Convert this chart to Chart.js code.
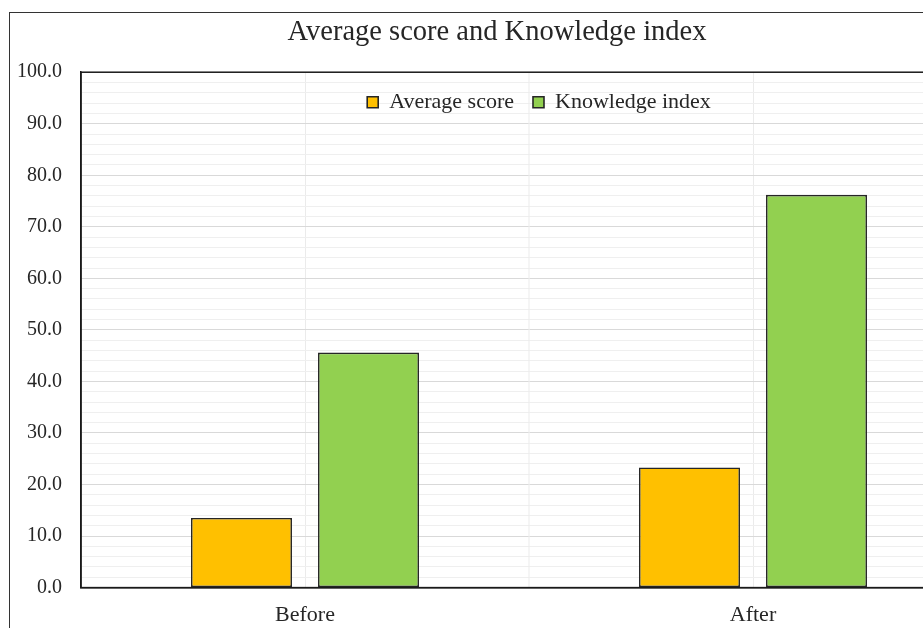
<!DOCTYPE html>
<html>
<head>
<meta charset="utf-8">
<script src="https://cdn.jsdelivr.net/npm/chart.js@4"></script>
<style>
  html, body { margin:0; padding:0; background:#fff; overflow:hidden; }
  #frame { position:absolute; left:9px; top:12px; width:990px; height:660px; border:1px solid #333; box-sizing:border-box; }
  #wrap  { position:absolute; left:0; top:0; width:980px; height:640px; }
</style>
</head>
<body>
<div id="frame"><div id="wrap"><canvas id="chart" width="980" height="640"></canvas></div></div>
<script>
/* ---- data ---- */
const categories     = ['Before', 'After'];
const averageScore   = [13.5, 23.3];
const knowledgeIndex = [45.6, 76.2];
const seriesNames    = ['Average score', 'Knowledge index'];

const SERIF = '"Liberation Serif", "Times New Roman", serif';
const INK   = '#262626';

// plot frame + gridline between the two categories; legend moved inside the plot
const framePlugin = {
  id: 'frame',
  afterLayout(chart) {
    const L = chart.legend;
    L.top = chart.chartArea.top;
    L.height = 60;
    L.bottom = L.top + L.height;
    L.left += 10;
    L.right += 10;
  },
  beforeDatasetsDraw(chart) {
    const { ctx, chartArea:a, scales:{ x } } = chart;
    ctx.save();
    ctx.strokeStyle = '#ebebeb';
    ctx.lineWidth = 1;
    ctx.beginPath();
    const mid = x.getPixelForValue(0.5);
    ctx.moveTo(mid, a.top); ctx.lineTo(mid, a.bottom);
    ctx.stroke();
    ctx.restore();
  },
  afterDatasetsDraw(chart) {
    const { ctx, chartArea:a } = chart;
    ctx.save();
    ctx.strokeStyle = '#1a1a1a';
    ctx.lineWidth = 1.5;
    ctx.strokeRect(a.left, a.top, a.right - a.left, a.bottom - a.top);
    ctx.restore();
  }
};

new Chart(document.getElementById('chart'), {
  type: 'bar',
  data: {
    labels: categories,
    datasets: [
      { label: seriesNames[0], data: averageScore,   backgroundColor:'#ffc000', borderColor:INK, borderWidth:1.6, borderSkipped:false },
      { label: seriesNames[1], data: knowledgeIndex, backgroundColor:'#92d050', borderColor:INK, borderWidth:1.6, borderSkipped:false }
    ]
  },
  options: {
    responsive:false, animation:false,
    categoryPercentage: 0.567, barPercentage: 0.795,
    layout: { padding:{ left:7, right:13, top:0, bottom:11 } },
    plugins: {
      title: {
        display:true, text:'Average score and Knowledge index', color:INK,
        font:{ family:SERIF, size:28.5, weight:'normal' }, padding:{ top:2, bottom:23 }
      },
      legend: {
        position:'top', align:'center', fullSize:false, maxHeight:0.01,
        labels: { color:INK, font:{ family:SERIF, size:22 }, boxWidth:11, boxHeight:11, padding:19 }
      },
      tooltip: { enabled:false }
    },
    scales: {
      x: {
        grid: { color:'#ebebeb', drawTicks:false, offset:false },
        border: { color:'#1a1a1a', width:1.5 },
        ticks: { color:INK, font:{ family:SERIF, size:22 }, padding:14 }
      },
      y: {
        min:0, max:100,
        afterFit: s => { s.width = 64; },
        grid: { drawTicks:false, color: c => (c.tick && c.tick.value % 10 === 0) ? '#d9d9d9' : '#efefef' },
        border: { color:'#1a1a1a', width:1.5 },
        ticks: {
          stepSize:2, autoSkip:false, color:INK, font:{ family:SERIF, size:20 }, padding:19,
          callback: v => v % 10 === 0 ? v.toFixed(1) : ''
        }
      }
    }
  },
  plugins: [framePlugin]
});
</script>
</body>
</html>
